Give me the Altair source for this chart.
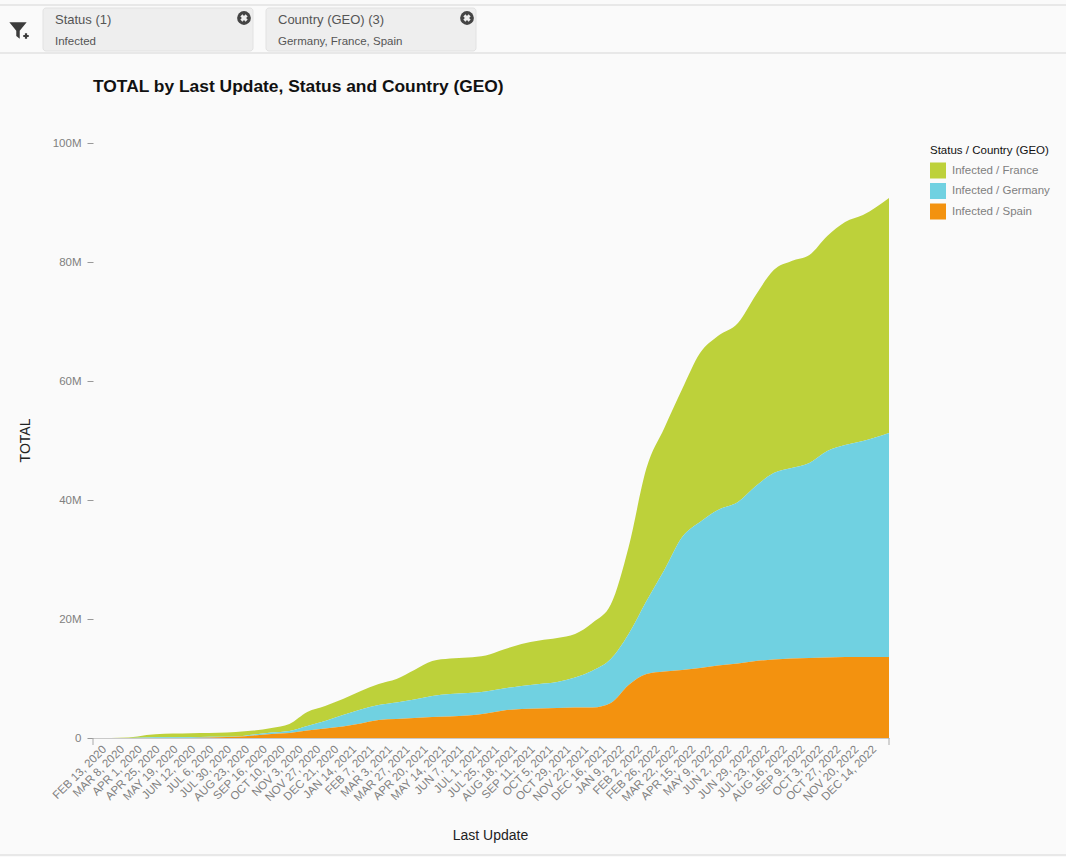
import altair as alt
import pandas as pd

# Axis dates, one tick every 24 reporting days, plus the last day of the series
tick_dates = [
    "2020-02-13", "2020-03-08", "2020-04-01", "2020-04-25", "2020-05-19", "2020-06-12",
    "2020-07-06", "2020-07-30", "2020-08-23", "2020-09-16", "2020-10-10", "2020-11-03",
    "2020-11-27", "2020-12-21", "2021-01-14", "2021-02-07", "2021-03-03", "2021-03-27",
    "2021-04-20", "2021-05-14", "2021-06-07", "2021-07-01", "2021-07-25", "2021-08-18",
    "2021-09-11", "2021-10-05", "2021-10-29", "2021-11-22", "2021-12-16", "2022-01-09",
    "2022-02-02", "2022-02-26", "2022-03-22", "2022-04-15", "2022-05-09", "2022-06-02",
    "2022-06-29", "2022-07-23", "2022-08-16", "2022-09-09", "2022-10-03", "2022-10-27",
    "2022-11-20", "2022-12-14",
]
last_day = "2023-01-18"
dates = tick_dates + [last_day]

# Cumulative infections, in millions
spain = [
    0, 0, 0, 0, 0, 0, 0.05, 0.11, 0.2, 0.42, 0.67, 0.84, 1.26, 1.6, 1.93, 2.44, 3.03, 3.19,
    3.36, 3.53, 3.61, 3.78, 4.12, 4.62, 4.87, 4.96, 5.04, 5.13, 5.13, 5.88, 8.9, 10.76,
    11.18, 11.43, 11.76, 12.18, 12.52, 12.94, 13.19, 13.36, 13.45, 13.53, 13.61, 13.61, 13.61,
]
germany = [
    0, 0, 0, 0.07, 0.12, 0.13, 0.12, 0.08, 0.05, 0.17, 0.25, 0.34, 0.76, 1.26, 1.93, 2.35,
    2.52, 2.77, 3.11, 3.53, 3.78, 3.78, 3.7, 3.7, 3.87, 4.12, 4.37, 5.04, 6.22, 7.39, 8.57,
    12.27, 17.06, 22.35, 24.54, 26.13, 27.14, 29.41, 31.34, 32.02, 32.77, 34.71, 35.63, 36.3, 37.65,
]
france = [
    0, 0, 0.08, 0.44, 0.61, 0.62, 0.67, 0.69, 0.76, 0.67, 0.76, 1.18, 2.35, 2.52, 2.69, 3.11,
    3.53, 3.95, 4.96, 5.88, 5.97, 5.97, 6.05, 6.55, 7.06, 7.31, 7.39, 7.31, 8.07, 9.16, 14.62,
    22.35, 23.87, 24.87, 28.4, 29.24, 30.08, 32.1, 34.12, 34.79, 34.96, 36.13, 37.48, 37.98, 39.5,
]
series_names = ["Infected / France", "Infected / Germany", "Infected / Spain"]
series_colors = ["#bdd13a", "#70d1e1", "#f3920f"]
y_ticks = [0, 20, 40, 60, 80, 100]

# Page geometry: the plot area sits inside this padding
LEFT, TOP, PLOT_W, PLOT_H = 93, 143, 796, 595
WIDTH, HEIGHT = 1066, 857

rows = []
for name, values in zip(series_names, [france, germany, spain]):
    rows += [{"date": d, "series": name, "total": v} for d, v in zip(dates, values)]
df = pd.DataFrame(rows)

x_scale = alt.Scale(type="utc", domain=["2020-02-13", last_day], nice=False)

area = (
    alt.Chart(df)
    .mark_area(interpolate="monotone")
    .encode(
        x=alt.X(
            "date:T",
            scale=x_scale,
            axis=alt.Axis(
                values=tick_dates,
                labels=False,
                ticks=False,
                grid=False,
                domainColor="#c9c9c9",
                title="Last Update",
                titleFont="Liberation Sans",
                titleFontSize=14,
                titleFontWeight="normal",
                titleColor="#222222",
                titleX=490 - LEFT,
                titleY=90,
            ),
        ),
        y=alt.Y(
            "total:Q",
            stack="zero",
            scale=alt.Scale(domain=[0, 100], nice=False),
            axis=alt.Axis(
                values=y_ticks,
                labelExpr="datum.value == 0 ? '0' : datum.value + 'M'",
                labelFontSize=11.5,
                labelColor="#808080",
                labelFont="Liberation Sans",
                labelPadding=6,
                tickSize=6,
                tickColor="#999999",
                domain=False,
                grid=False,
                title="TOTAL",
                titleFont="Liberation Sans",
                titleFontSize=14,
                titleFontWeight="normal",
                titleColor="#222222",
                titleX=25 - LEFT + 7,
                titleY=440 - TOP,
            ),
        ),
        color=alt.Color(
            "series:N",
            scale=alt.Scale(domain=series_names, range=series_colors),
            sort=series_names,
            legend=alt.Legend(
                orient="none",
                legendX=930 - LEFT,
                legendY=145 - TOP,
                title="Status / Country (GEO)",
                titleFont="Liberation Sans",
                titleFontSize=11.5,
                titleFontWeight="normal",
                titleColor="#111111",
                titlePadding=6,
                labelFont="Liberation Sans",
                labelFontSize=11.5,
                labelColor="#808080",
                labelOffset=6,
                symbolType="square",
                symbolSize=256,
                symbolStrokeWidth=0,
                rowPadding=4.5,
            ),
        ),
        order=alt.Order("series:N", sort="descending"),
    )
)

# Slanted date labels along the bottom, placed through the shared time scale
date_labels = (
    alt.Chart(pd.DataFrame({
        "date": tick_dates,
        "text": [
            f"{d.strftime('%b').upper()} {d.day}, {d.year}"
            for d in pd.to_datetime(tick_dates)
        ],
    }))
    .mark_text(
        angle=315, align="right", baseline="middle", dx=1.4, dy=15.5,
        font="Liberation Sans", fontSize=11.5, color="#808080",
    )
    .encode(x=alt.X("date:T", scale=x_scale), y=alt.value(PLOT_H), text="text:N")
)


def blank():
    """Single-row source for the marks placed in page pixels."""
    return alt.Chart(alt.Data(values=[{}]))


def px(x):
    return alt.value(x - LEFT)


def py(y):
    return alt.value(y - TOP)


def band_rule(y):
    return blank().mark_rule(color="#d6d6d6", strokeWidth=1).encode(
        x=px(0), x2=px(WIDTH), y=py(y)
    )


def label(text, x, y, size, color, weight="normal"):
    return blank().mark_text(
        text=text, align="left", baseline="alphabetic", font="Liberation Sans",
        fontSize=size, color=color, fontWeight=weight,
    ).encode(x=px(x), y=py(y))


def chip(x0, x1, heading, detail, close_x):
    box = blank().mark_rect(
        fill="#eeeeee", stroke="#e2e2e2", strokeWidth=1, cornerRadius=3
    ).encode(x=px(x0), x2=px(x1), y=py(8), y2=py(51))
    disc = blank().mark_point(filled=True, fill="#444444", opacity=1, shape="circle", size=190).encode(
        x=px(close_x), y=py(18)
    )
    cross = blank().mark_point(
        filled=True, fill="#eeeeee", opacity=1, shape="cross", angle=45, size=55
    ).encode(x=px(close_x), y=py(18))
    return [
        box, disc, cross,
        label(heading, x0 + 12, 24, 13, "#555555"),
        label(detail, x0 + 12, 45, 11.5, "#555555"),
    ]


funnel = blank().mark_point(
    filled=True, fill="#3c3c3c", opacity=1, size=300,
    shape="M-1,-0.9 L1,-0.9 L0.2,0.1 L0.2,1 L-0.2,0.7 L-0.2,0.1 Z",
).encode(x=px(18), y=py(30))
funnel_plus = blank().mark_point(
    filled=True, fill="#3c3c3c", opacity=1, shape="cross", size=30
).encode(x=px(26), y=py(36))

end_ticks = [
    blank().mark_rule(color="#aaaaaa").encode(x=px(x), y=py(738), y2=py(745))
    for x in (LEFT, LEFT + PLOT_W)
]

layers = (
    [band_rule(5), band_rule(53), band_rule(855), funnel, funnel_plus]
    + chip(43, 253, "Status (1)", "Infected", 244)
    + chip(266, 476, "Country (GEO) (3)", "Germany, France, Spain", 467)
    + [area, date_labels]
    + end_ticks
    + [label("TOTAL by Last Update, Status and Country (GEO)", 93, 92, 17.4, "#111111", "bold")]
)

chart = (
    alt.layer(*layers)
    .properties(
        width=PLOT_W,
        height=PLOT_H,
        autosize=alt.AutoSizeParams(type="none"),
        padding={"left": LEFT, "top": TOP, "right": WIDTH - LEFT - PLOT_W, "bottom": HEIGHT - TOP - PLOT_H},
        background="#fafafa",
    )
    .configure_view(stroke=None)
)

chart.save("out.html", embed_options={"renderer": "svg", "actions": False})
